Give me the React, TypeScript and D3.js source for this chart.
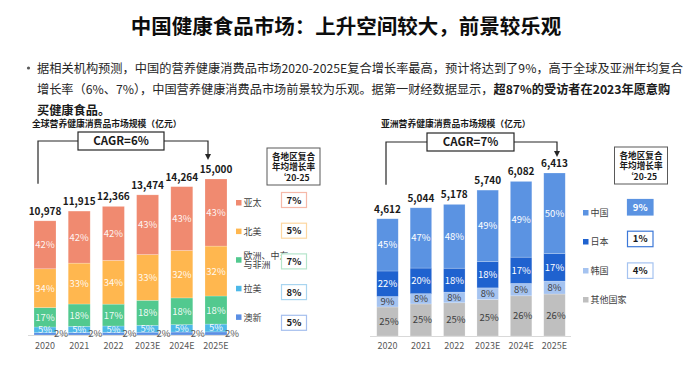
import React from 'react';
import * as d3 from 'd3';

const years = ['2020', '2021', '2022', '2023E', '2024E', '2025E'];

// global market, 亿元, and share of each region (%)
const globalTotals = [10978, 11915, 12366, 13474, 14264, 15000];
const globalRegions = ['亚太', '北美', '欧洲、中东与非洲', '拉美', '澳新'];
const globalApac = [42, 42, 42, 43, 43, 43];
const globalNorthAm = [34, 33, 34, 33, 32, 32];
const globalEmea = [17, 18, 17, 18, 18, 18];
const globalLatam = [5, 5, 5, 5, 5, 5];
const globalAnz = [2, 2, 2, 2, 2, 2];
const globalCagr = ['7%', '5%', '7%', '8%', '5%'];

// asia market
const asiaTotals = [4612, 5044, 5178, 5740, 6082, 6413];
const asiaRegions = ['中国', '日本', '韩国', '其他国家'];
const asiaChina = [45, 47, 48, 49, 49, 50];
const asiaJapan = [22, 20, 18, 18, 17, 17];
const asiaKorea = [9, 8, 8, 8, 8, 8];
const asiaOther = [25, 25, 25, 25, 26, 26];
const asiaCagr = ['9%', '1%', '4%'];

const FONT = '"Noto Sans CJK SC", "Noto Sans", sans-serif';

function buildStack(totals: number[], series: number[][], keys: string[]) {
  // bottom series first, shares rescaled so the stack tops out at the total
  const rows = totals.map((t, i) => {
    const sum = d3.sum(series, s => s[i]);
    const r: any = { year: years[i] };
    keys.forEach((k, j) => (r[k] = (series[j][i] / sum) * t));
    return r;
  });
  return d3.stack<any>().keys(keys)(rows);
}

const fmt = d3.format(',');

const App: React.FC = () => {
  // ---------- global chart ----------
  const gx = d3.scalePoint<string>().domain(years).range([45, 216]);
  const gy = d3.scaleLinear().domain([0, 15000]).range([335, 179]);
  const gKeys = ['anz', 'latam', 'emea', 'na', 'apac'];
  const gSeries = [globalAnz, globalLatam, globalEmea, globalNorthAm, globalApac];
  const gColors = ['#5b8fe4', '#4db8e8', '#52c98f', '#ffb74f', '#f08a70'];
  const gStack = buildStack(globalTotals, gSeries, gKeys);
  const gBarW = 22;

  // ---------- asia chart ----------
  const ax = d3.scalePoint<string>().domain(years).range([387.5, 554.5]);
  const ay = d3.scaleLinear().domain([0, 6413]).range([336, 173]);
  const aKeys = ['other', 'korea', 'japan', 'china'];
  const aSeries = [asiaOther, asiaKorea, asiaJapan, asiaChina];
  const aColors = ['#bfbfbf', '#a5c3f0', '#1f62cf', '#5b93e2'];
  const aText = ['#404040', '#404040', '#ffffff', '#ffffff'];
  const aStack = buildStack(asiaTotals, aSeries, aKeys);
  const aBarW = 21.5;

  const gLegendColors = ['#f08a70', '#ffb74f', '#52c98f', '#4db8e8', '#5b8fe4'];
  const gBoxBorders = ['#f6b9a9', '#fdd7a1', '#b5e5cb', '#a9d5f0', '#a6bfee'];
  const aLegendColors = ['#5b93e2', '#1f62cf', '#a5c3f0', '#bfbfbf'];

  const bracket = (x1: number, yStart: number, boxL: number, boxR: number, boxT: number, boxB: number, x2: number, yEnd: number, label: string) => {
    const yMid = (boxT + boxB) / 2;
    return (
      <g>
        <path d={`M${x1},${yStart}V${yMid}H${boxL}`} fill="none" stroke="#262626" strokeWidth={1.2} />
        <path d={`M${boxR},${yMid}H${x2}V${yEnd - 5}`} fill="none" stroke="#262626" strokeWidth={1.2} />
        <path d={`M${x2 - 3},${yEnd - 6}L${x2 + 3},${yEnd - 6}L${x2},${yEnd}Z`} fill="#262626" />
        <rect x={boxL} y={boxT} width={boxR - boxL} height={boxB - boxT} fill="#fff" stroke="#262626" strokeWidth={1.2} />
        <text x={(boxL + boxR) / 2} y={yMid + 4} textAnchor="middle" fontSize={11.5} fontWeight={700} fill="#1a1a1a">{label}</text>
      </g>
    );
  };

  const rateHeader = (x: number, y: number) => (
    <g>
      <rect x={x} y={y} width={53} height={37} fill="#fff" stroke="#595959" strokeWidth={1} />
      {['各地区复合', '年均增长率', '‘20-25'].map((t, i) => (
        <text key={i} x={x + 26.5} y={y + 11.5 + i * 10.5} textAnchor="middle" fontSize={8.6} fontWeight={700} fill="#1a1a1a">{t}</text>
      ))}
    </g>
  );

  return (
    <svg width={693} height={366} style={{ position: 'absolute', left: 0, top: 0, background: '#fff' }} fontFamily={FONT}>
      {/* title */}
      <text x={346} y={34} textAnchor="middle" fontSize={20.5} fontWeight={700} fill="#0d0d0d">中国健康食品市场：上升空间较大，前景较乐观</text>

      {/* bullet text */}
      <g fontSize={12.2} fill="#262626">
        <circle cx={28.5} cy={68} r={1.6} fill="#595959" />
        <text x={37} y={72.5} textLength={646} lengthAdjust="spacing">据相关机构预测，中国的营养健康消费品市场2020-2025E复合增长率最高，预计将达到了9%，高于全球及亚洲年均复合</text>
        <text x={37} y={94}>
          增长率（6%、7%），中国营养健康消费品市场前景较为乐观。据第一财经数据显示，
          <tspan fontWeight={700} fill="#1a1a1a">超87%的受访者在2023年愿意购</tspan>
        </text>
        <text x={37} y={114.5} fontWeight={700} fill="#1a1a1a">买健康食品。</text>
      </g>

      {/* ===== global ===== */}
      <text x={32} y={127} fontSize={8.8} fontWeight={700} fill="#1a1a1a">全球营养健康消费品市场规模（亿元）</text>
      {bracket(gx('2020')! - 7, gy(globalTotals[0]) - 37, 78, 164, 132, 150, gx('2025E')! - 8, gy(15000) - 19, 'CAGR=6%')}
      <line x1={28} x2={234} y1={335.5} y2={335.5} stroke="#d9d9d9" strokeWidth={1} />
      {gStack.map((layer, li) => (
        <g key={layer.key}>
          {layer.map((d, i) => (
            <rect key={i} x={gx(years[i])! - gBarW / 2} y={gy(d[1])} width={gBarW} height={gy(d[0]) - gy(d[1])}
              fill={gColors[li]} stroke="#fff" strokeOpacity={0.35} strokeWidth={0.6} />
          ))}
        </g>
      ))}
      {gStack.map((layer, li) => (
        <g key={'l' + layer.key} fontSize={9.5}>
          {layer.map((d, i) => {
            const pct = gSeries[li][i] + '%';
            if (li === 0) {
              return <text key={i} x={gx(years[i])! + gBarW / 2 + 5} y={gy(0) + 1.5} textAnchor="middle" fill="#595959">{pct}</text>;
            }
            return <text key={i} x={gx(years[i])!} y={(gy(d[0]) + gy(d[1])) / 2 + 3.5} textAnchor="middle" fill="#fff" fillOpacity={0.92}>{pct}</text>;
          })}
        </g>
      ))}
      {globalTotals.map((t, i) => (
        <text key={i} x={gx(years[i])!} y={gy(t) - 6} textAnchor="middle" fontSize={10} fontWeight={700} fill="#1a1a1a">{fmt(t)}</text>
      ))}
      {years.map(y => (
        <text key={y} x={gx(y)!} y={349} textAnchor="middle" fontSize={9} fill="#595959">{y}</text>
      ))}
      {/* legend */}
      {globalRegions.map((r, i) => {
        const cy = 203 + i * 28.6;
        const lines = r === '欧洲、中东与非洲' ? ['欧洲、中东', '与非洲'] : [r];
        return (
          <g key={r}>
            <rect x={236} y={cy - 3} width={5.5} height={5.5} fill={gLegendColors[i]} />
            {lines.map((l, k) => (
              <text key={k} x={243.5} y={cy + 3.2 - (lines.length - 1) * 4 + k * 8.5} fontSize={9} fill="#404040">{l}</text>
            ))}
          </g>
        );
      })}
      {rateHeader(267, 148)}
      {globalCagr.map((c, i) => {
        const cy = 200 + i * 30.7;
        return (
          <g key={i}>
            <rect x={281.5} y={cy - 7.5} width={25} height={15} fill="#fff" stroke={gBoxBorders[i]} strokeWidth={1.2} />
            <text x={294} y={cy + 3.5} textAnchor="middle" fontSize={9.5} fontWeight={700} fill="#1a1a1a">{c}</text>
          </g>
        );
      })}

      {/* ===== asia ===== */}
      <text x={381} y={127} fontSize={8.8} fontWeight={700} fill="#1a1a1a">亚洲营养健康消费品市场规模（亿元）</text>
      {bracket(ax('2020')! - 1.5, ay(asiaTotals[0]) - 34, 427, 514, 133, 151, ax('2025E')! + 2.5, ay(6413) - 16, 'CAGR=7%')}
      <line x1={370} x2={571} y1={336.5} y2={336.5} stroke="#d9d9d9" strokeWidth={1} />
      {aStack.map((layer, li) => (
        <g key={layer.key}>
          {layer.map((d, i) => (
            <rect key={i} x={ax(years[i])! - aBarW / 2} y={ay(d[1])} width={aBarW} height={ay(d[0]) - ay(d[1])}
              fill={aColors[li]} stroke="#fff" strokeOpacity={0.35} strokeWidth={0.6} />
          ))}
        </g>
      ))}
      {aStack.map((layer, li) => (
        <g key={'l' + layer.key} fontSize={9.5}>
          {layer.map((d, i) => (
            <text key={i} x={ax(years[i])! + (li === 0 ? 1.5 : 0)} y={(ay(d[0]) + ay(d[1])) / 2 + 3.5} textAnchor="middle" fill={aText[li]}>
              {aSeries[li][i] + '%'}
            </text>
          ))}
        </g>
      ))}
      {asiaTotals.map((t, i) => (
        <text key={i} x={ax(years[i])!} y={ay(t) - 6} textAnchor="middle" fontSize={10} fontWeight={700} fill="#1a1a1a">{fmt(t)}</text>
      ))}
      {years.map(y => (
        <text key={y} x={ax(y)!} y={349} textAnchor="middle" fontSize={9} fill="#595959">{y}</text>
      ))}
      {asiaRegions.map((r, i) => {
        const cy = 213 + i * 29;
        return (
          <g key={r}>
            <rect x={583} y={cy - 3} width={5.5} height={5.5} fill={aLegendColors[i]} />
            <text x={590.5} y={cy + 3.2} fontSize={9} fill="#404040">{r}</text>
          </g>
        );
      })}
      {rateHeader(614.5, 147)}
      {asiaCagr.map((c, i) => {
        const cy = 207 + i * 31.7;
        const filled = i === 0;
        const border = ['#5b93e2', '#3c78d8', '#a5c3f0'][i];
        return (
          <g key={i}>
            <rect x={627.5} y={cy - 7.5} width={25.5} height={15.5} fill={filled ? '#5b93e2' : '#fff'} stroke={border} strokeWidth={1.2} />
            <text x={640.2} y={cy + 3.5} textAnchor="middle" fontSize={9.5} fontWeight={700} fill={filled ? '#fff' : '#1a1a1a'}>{c}</text>
          </g>
        );
      })}
    </svg>
  );
};

export default App;
